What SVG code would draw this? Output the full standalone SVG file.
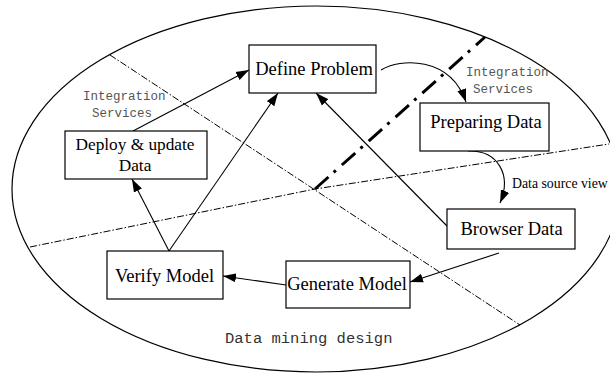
<svg xmlns="http://www.w3.org/2000/svg" width="610" height="373" viewBox="0 0 610 373">
<style>
.box{fill:#fff;stroke:#000;stroke-width:1.2}
.lbl{font-family:"Liberation Serif","Times New Roman",serif;font-size:18.5px;fill:#000;text-anchor:middle}
.mono{font-family:"Liberation Mono","Courier New",monospace;fill:#555}
.conn{fill:none;stroke:#000;stroke-width:1.1}
.thin{fill:none;stroke:#000;stroke-width:1;stroke-dasharray:7 2 1.5 2}
.thick{fill:none;stroke:#000;stroke-width:3;stroke-dasharray:18 7 3 8}
</style>
<defs>
<marker id="ah" markerWidth="14" markerHeight="10" refX="13" refY="5" orient="auto" markerUnits="userSpaceOnUse">
<path d="M0,0.5 L13,5 L0,9.5 z" fill="#000"/>
</marker>
</defs>
<rect width="610" height="373" fill="#fff"/>
<ellipse cx="316" cy="189" rx="304" ry="183" fill="none" stroke="#000" stroke-width="1.2"/>
<g id="dividers">
<path class="thin" d="M110,55 L520,325"/>
<path class="thin" d="M30,247 L315,189 L609,144"/>
<path class="thick" d="M315,189 L485,37"/>
</g>
<g id="connectors">
<path class="conn" d="M133,131 L249,70" marker-end="url(#ah)"/>
<path class="conn" d="M169,251 L278,93" marker-end="url(#ah)"/>
<path class="conn" d="M169,251 L132,179" marker-end="url(#ah)"/>
<path class="conn" d="M447,226 L316,93" marker-end="url(#ah)"/>
<path class="conn" d="M499,253 L410,282" marker-end="url(#ah)"/>
<path class="conn" d="M286,285 L223,276" marker-end="url(#ah)"/>
<path class="conn" d="M381,70 C400,58 450,56 466,102" marker-end="url(#ah)"/>
<path class="conn" d="M468,151 C498,150 512,175 500,203" marker-end="url(#ah)"/>
</g>
<g id="define-problem">
<rect class="box" x="249" y="45" width="127" height="48"/>
<text class="lbl" x="314" y="75">Define Problem</text>
</g>
<g id="preparing-data">
<rect class="box" x="420" y="103" width="129" height="48"/>
<text class="lbl" x="486" y="128">Preparing Data</text>
</g>
<g id="browser-data">
<rect class="box" x="447" y="209" width="128" height="40"/>
<text class="lbl" x="511.5" y="235">Browser Data</text>
</g>
<g id="generate-model">
<rect class="box" x="286" y="261" width="124" height="47"/>
<text class="lbl" x="347" y="290">Generate Model</text>
</g>
<g id="verify-model">
<rect class="box" x="107" y="251" width="116" height="48"/>
<text class="lbl" x="164.5" y="282">Verify Model</text>
</g>
<g id="deploy-update-data">
<rect class="box" x="65" y="131" width="142" height="48"/>
<text class="lbl" x="135" y="150" style="font-size:17.3px">Deploy &amp; update</text>
<text class="lbl" x="135" y="171" style="font-size:17.3px">Data</text>
</g>
<g id="labels">
<text class="mono" x="83" y="100" font-size="12.5">Integration</text>
<text class="mono" x="92" y="117" font-size="12.5">Services</text>
<text class="mono" x="466" y="76" font-size="12.5">Integration</text>
<text class="mono" x="473" y="93" font-size="12.5">Services</text>
<text x="512" y="188" font-family="Liberation Serif, Times New Roman, serif" font-size="13.8" fill="#000">Data source view</text>
<text class="mono" x="225" y="343" font-size="15.5" style="fill:#333">Data mining design</text>
</g>
</svg>
